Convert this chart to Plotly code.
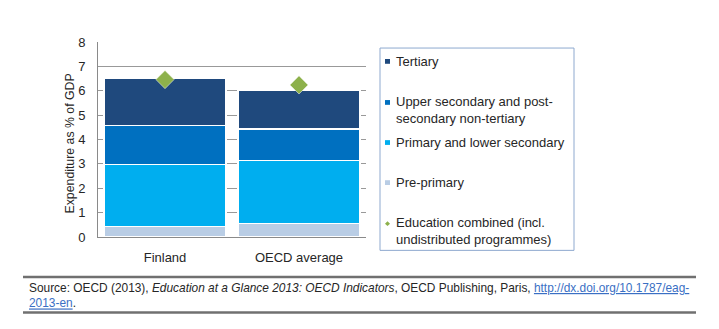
import plotly.graph_objects as go

W, H = 719, 329

# Data: expenditure on educational institutions as % of GDP
countries = ["Finland", "OECD average"]
series_names = [
    "Pre-primary",
    "Primary and lower secondary",
    "Upper secondary and post-secondary non-tertiary",
    "Tertiary",
]
pre_primary = [0.43, 0.54]
primary_lower = [2.55, 2.61]
upper_secondary = [1.59, 1.28]
tertiary = [1.92, 1.57]
combined = [6.46, 6.24]

series_values = [pre_primary, primary_lower, upper_secondary, tertiary]
series_colors = ["#B9CDE5", "#00AEEF", "#0070C0", "#1F497D"]
combined_name = "Education combined (incl. undistributed programmes)"
combined_color = "#8DB14B"

y_ticks = [0, 1, 2, 3, 4, 5, 6, 7, 8]


def px_x(v):
    return v / W


def px_y(v):
    return 1 - v / H


fig = go.Figure()
for name, vals, col in zip(series_names, series_values, series_colors):
    fig.add_trace(go.Bar(
        x=countries, y=vals, name=name,
        marker=dict(color=col, line=dict(color="white", width=1.2)),
        showlegend=False,
    ))

fig.add_trace(go.Scatter(
    x=countries, y=combined, mode="markers", name=combined_name,
    marker=dict(symbol="diamond", size=14, color=combined_color,
                line=dict(color="white", width=0.5)),
    showlegend=False,
))

fig.update_layout(
    width=W, height=H,
    margin=dict(l=0, r=0, t=0, b=0),
    paper_bgcolor="white", plot_bgcolor="white",
    barmode="stack", bargap=0.09,
    font=dict(family="Liberation Sans, Arial, sans-serif", color="#262626"),
    xaxis=dict(
        domain=[px_x(98), px_x(366)],
        showline=True, linecolor="#8a8a8a", linewidth=1,
        ticks="", tickfont=dict(size=13, color="#262626"),
        ticklabelstandoff=8,
        showgrid=False,
    ),
    yaxis=dict(
        domain=[px_y(241), px_y(36.7)],
        range=[0, 8], tickvals=y_ticks,
        showgrid=True, gridcolor="#999999", gridwidth=1,
        showline=True, linecolor="#8a8a8a", linewidth=1,
        zeroline=False, ticks="", ticklen=0,
        ticklabelstandoff=9,
        tickfont=dict(size=13, color="#262626"),
    ),
)

annotations = [
    dict(text="Expenditure as % of GDP", textangle=-90,
         x=px_x(70), y=px_y(143), xref="paper", yref="paper",
         xanchor="center", yanchor="middle",
         showarrow=False, font=dict(size=12.3, color="#262626")),
]
shapes = []

# Legend box
shapes.append(dict(type="rect", xref="paper", yref="paper",
                   x0=px_x(380), x1=px_x(574), y0=px_y(255), y1=px_y(43),
                   line=dict(color="#8EA9CF", width=1), fillcolor="white"))

legend_items = [
    (series_names[3], series_colors[3], [57]),
    ("Upper secondary and post-<br>secondary non-tertiary", series_colors[2], [100, 115]),
    (series_names[1], series_colors[1], [142]),
    (series_names[0], series_colors[0], [184]),
    ("Education combined (incl.<br>undistributed programmes)", combined_color, [227, 242]),
]
for i, (label, col, ys) in enumerate(legend_items):
    yc = sum(ys) / len(ys)
    y0 = ys[0]
    if i < 4:
        shapes.append(dict(type="rect", xref="paper", yref="paper",
                           x0=px_x(385), x1=px_x(390), y0=px_y(y0 + 2.5), y1=px_y(y0 - 2.5),
                           line=dict(width=0), fillcolor=col))
    else:
        shapes.append(dict(type="path", xref="paper", yref="paper",
                           path=f"M {px_x(387.5)} {px_y(y0 - 2.5)} L {px_x(390)} {px_y(y0)} "
                                f"L {px_x(387.5)} {px_y(y0 + 2.5)} L {px_x(385)} {px_y(y0)} Z",
                           line=dict(width=0), fillcolor=col))
    annotations.append(dict(text=label, x=px_x(394), y=px_y(yc), xref="paper", yref="paper",
                            xanchor="left", yanchor="middle", align="left", showarrow=False,
                            font=dict(size=13, color="#262626")))

# Source footer
for yl in (283, 320):
    shapes.append(dict(type="line", xref="paper", yref="paper",
                       x0=px_x(23), x1=px_x(696), y0=px_y(yl), y1=px_y(yl),
                       line=dict(color="#707070", width=2.5)))

link = "style='color:#3A6FC4;text-decoration:underline'"
source_text = (
    "Source: OECD (2013), <i>Education at a Glance 2013: OECD Indicators</i>, "
    f"OECD Publishing, Paris, <span {link}>http://dx.doi.org/10.1787/eag-</span>"
    f"<br><span {link}>2013-en</span>."
)
annotations.append(dict(text=source_text, x=px_x(27), y=px_y(302), xref="paper", yref="paper",
                        xanchor="left", yanchor="middle", align="left", showarrow=False,
                        font=dict(size=11.9, color="#262626")))

fig.update_layout(annotations=annotations, shapes=shapes)
fig.write_html("out.html")
